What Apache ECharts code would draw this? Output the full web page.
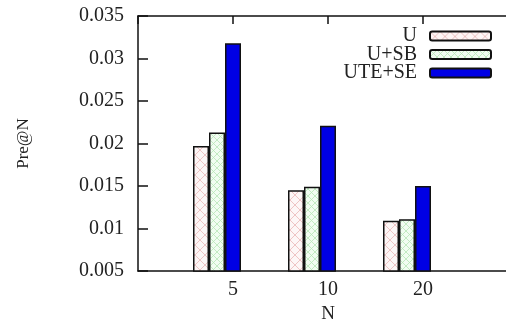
<!DOCTYPE html>
<html>
<head>
<meta charset="utf-8">
<script src="https://cdn.jsdelivr.net/npm/echarts@6/dist/echarts.min.js"></script>
<style>
  html, body { margin: 0; padding: 0; background: #fff; }
  #chart { width: 506px; height: 328px; }
</style>
</head>
<body>
<div id="chart"></div>
<script>
// Precision at N for three methods
const categories = ['5', '10', '20'];
const seriesNames = ['U', 'U+SB', 'UTE+SE'];
const valuesU = [0.0197, 0.0145, 0.0109];
const valuesUSB = [0.0213, 0.0149, 0.0111];
const valuesUTESE = [0.0318, 0.0221, 0.0150];
const yMin = 0.005, yMax = 0.035, yStep = 0.005;

// Crosshatch tile used as a bar fill
function hatch(size, line, bg) {
  const c = document.createElement('canvas');
  c.width = size; c.height = size;
  const g = c.getContext('2d');
  g.fillStyle = bg; g.fillRect(0, 0, size, size);
  g.strokeStyle = line; g.lineWidth = 0.8;
  g.beginPath();
  g.moveTo(0, 0); g.lineTo(size, size);
  g.moveTo(size, 0); g.lineTo(0, size);
  g.stroke();
  return { image: c, repeat: 'repeat' };
}

const fills = [
  hatch(10, '#eab8b8', '#fdf6f6'),
  hatch(7, '#b6e4b6', '#f1fcf1'),
  '#0000e4'
];
const allValues = [valuesU, valuesUSB, valuesUTESE];

// slot positions 0..4 along x; groups sit on slots 1..3,
// the plot box runs on past the right edge of the page
const slotCount = categories.length + 1;
const slotPx = 95, frameLeft = 138;
const slotLabel = v => {
  const k = Math.round(v);
  return Math.abs(v - k) < 1e-6 && k >= 1 && k <= categories.length ? categories[k - 1] : '';
};

// bar slots: empty ends so the groups sit one step apart
const barAxisData = [''].concat(categories, ['']);
const serif = 'Liberation Serif';
const black = '#111';
const textColor = '#222';

const chart = echarts.init(document.getElementById('chart'), null, { renderer: 'canvas' });

const legends = seriesNames.map((n, i) => ({
  data: [n],
  right: 14,
  top: 26 + i * 18.5,
  padding: 0,
  align: 'right',
  itemWidth: 61,
  itemHeight: 9,
  textStyle: { fontFamily: serif, fontSize: 20, color: textColor, padding: [0, 8, 0, 0] },
  selectedMode: false
}));

const frameX = (pos, extra) => Object.assign({
  gridIndex: 0, type: 'value', min: 0, max: slotCount, interval: 1,
  position: pos,
  axisLine: { show: true, lineStyle: { color: black, width: 1.5 } },
  splitLine: { show: false }
}, extra);

chart.setOption({
  animation: false,
  legend: legends,
  grid: [
    { left: frameLeft, top: 16, width: slotPx * slotCount, height: 255, outerBoundsMode: 'none' },
    { left: frameLeft - 16, top: 16, width: slotPx * slotCount, height: 255, outerBoundsMode: 'none' }
  ],
  xAxis: [
    frameX('bottom', {
      axisTick: { show: false },
      axisLabel: { fontFamily: serif, fontSize: 20, color: textColor, margin: 9,
                   showMinLabel: false, showMaxLabel: false, formatter: slotLabel },
      name: 'N', nameLocation: 'middle', nameGap: 34,
      nameTextStyle: { fontFamily: serif, fontSize: 19, color: textColor }
    }),
    frameX('top', {
      axisTick: { show: true, inside: true, length: 8, lineStyle: { color: black, width: 1.5 } },
      axisLabel: { show: false }
    }),
    {
      gridIndex: 1, type: 'category', data: barAxisData, boundaryGap: false, show: false
    }
  ],
  yAxis: [
    {
      gridIndex: 0, type: 'value', min: yMin, max: yMax, interval: yStep,
      axisLine: { show: true, lineStyle: { color: black, width: 1.5 } },
      axisTick: { show: true, inside: true, length: 10, lineStyle: { color: black, width: 1.5 } },
      axisLabel: { fontFamily: serif, fontSize: 20, color: textColor, margin: 14 },
      splitLine: { show: false },
      name: 'Pre@N', nameLocation: 'middle', nameGap: 106, nameRotate: 90,
      nameTextStyle: { fontFamily: serif, fontSize: 17, color: textColor }
    },
    {
      gridIndex: 1, type: 'value', min: yMin, max: yMax, interval: yStep, show: false
    }
  ],
  series: seriesNames.map((n, i) => ({
    name: n,
    type: 'bar',
    xAxisIndex: 2,
    yAxisIndex: 1,
    barWidth: 16,
    barGap: '0%',
    data: [null].concat(allValues[i], [null]),
    itemStyle: { color: fills[i], borderColor: black, borderWidth: 1.5 }
  }))
});
</script>
</body>
</html>
